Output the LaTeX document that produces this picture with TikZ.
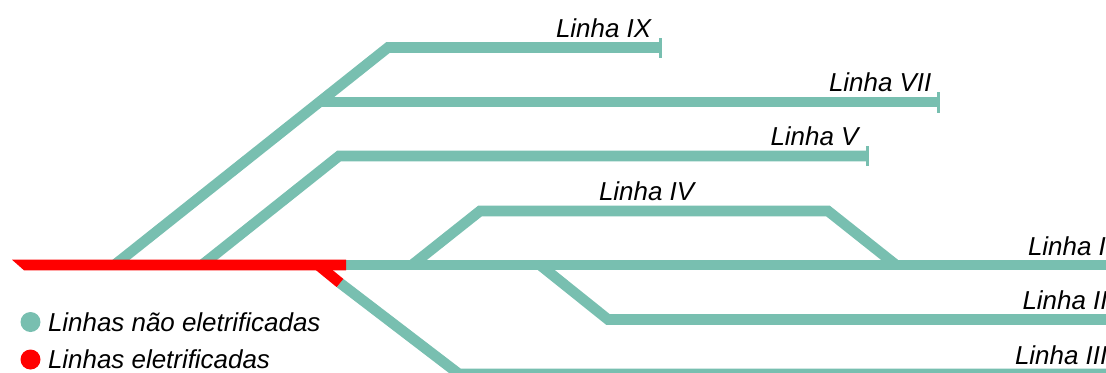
\documentclass[tikz,border=0pt]{standalone}
\usepackage{fontspec}
\setmainfont{Liberation Sans}
\definecolor{railteal}{HTML}{78BFB0}
\definecolor{railred}{HTML}{FF0000}
\tikzset{
  track/.style={draw=railteal,line width=10.6*0.75pt,line cap=butt,line join=miter},
  redtrack/.style={draw=railred,line width=10.6*0.75pt,line cap=butt,line join=miter},
  stopbar/.style={draw=railteal,line width=3*0.75pt},
  lbl/.style={anchor=base west,inner sep=0pt,outer sep=0pt,font=\fontsize{19.45pt}{22pt}\selectfont\itshape,text=black},
  legenddot/.style={circle,inner sep=0pt,minimum size=20*0.75pt}
}
\begin{document}
\begin{tikzpicture}[x=0.75pt,y=-0.75pt]
\useasboundingbox (0,0) rectangle (1106,372);
\clip (0,0) rectangle (1106,372);
% junctions
\coordinate (ixs) at (114.5,265);
\coordinate (ixk) at (388,47.5);
\coordinate (ixe) at (660,47.5);
\coordinate (viis) at (322,102);
\coordinate (viie) at (938,102);
\coordinate (vs) at (202,265);
\coordinate (vk) at (339,156);
\coordinate (ve) at (867,156);
\coordinate (ivs) at (412,265);
\coordinate (ivk) at (480,211);
\coordinate (ivl) at (828,211);
\coordinate (ive) at (896,265);
\coordinate (redend) at (346,265);
\coordinate (mainend) at (1110,265);
\coordinate (iis) at (540,265);
\coordinate (iik) at (608,319.5);
\coordinate (iie) at (1110,319.5);
\coordinate (iiis) at (318,265);
\coordinate (iiim) at (340,283);
\coordinate (iiik) at (459,374);
\coordinate (iiie) at (1110,374);
% teal tracks
\draw[track] (ixs) -- (ixk) -- (ixe);
\draw[track] (viis) -- (viie);
\draw[track] (vs) -- (vk) -- (ve);
\draw[track] (ivs) -- (ivk) -- (ivl) -- (ive);
\draw[track] (redend) -- (mainend);
\draw[track] (iis) -- (iik) -- (iie);
\draw[track] (iiim) -- (iiik) -- (iiie);
% stop bars
\draw[stopbar] ([yshift=-10*0.75pt]ixe) -- ([yshift=10*0.75pt]ixe);
\draw[stopbar] ([yshift=-10.5*0.75pt]viie) -- ([yshift=10.5*0.75pt]viie);
\draw[stopbar] ([yshift=-10*0.75pt]ve) -- ([yshift=10*0.75pt]ve);
% electrified
\draw[redtrack] (iiis) -- (iiim);
\fill[railred] (12,259.7) -- (346,259.7) -- (346,270.3) -- (24,270.3) -- cycle;
% labels
\node[lbl] (l9) at (556,37.3) {Linha IX};
\node[lbl] (l7) at (829,91.7) {Linha VII};
\node[lbl] (l5) at (770.5,145.7) {Linha V};
\node[lbl] (l4) at (599,200) {Linha IV};
\node[lbl] (l1) at (1028,255) {Linha I};
\node[lbl] (l2) at (1022.5,309.5) {Linha II};
\node[lbl] (l3) at (1015,364) {Linha III};
% legend
\node[legenddot,fill=railteal] (d1) at (30.5,322) {};
\node[legenddot,fill=railred] (d2) at (30.5,359.5) {};
\node[lbl] (t1) at (48,331) {Linhas não eletrificadas};
\node[lbl] (t2) at (48,368) {Linhas eletrificadas};
\end{tikzpicture}
\end{document}
